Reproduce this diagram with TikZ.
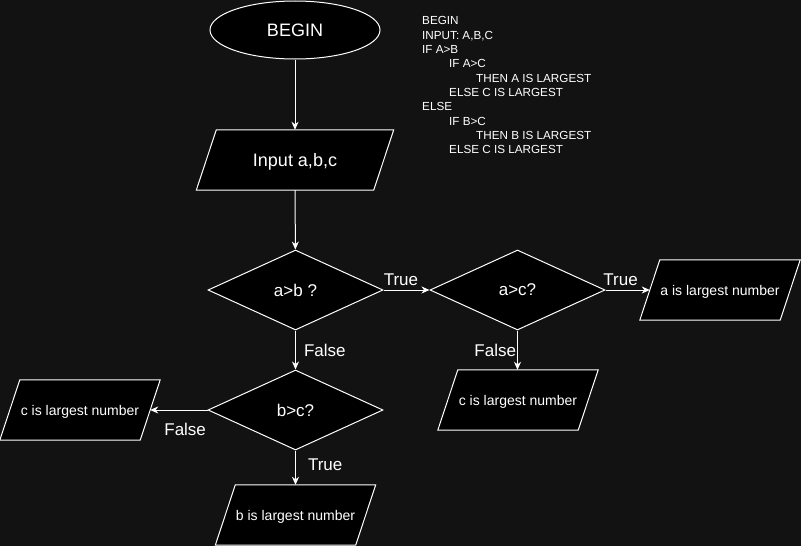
\documentclass[tikz,border=0pt]{standalone}
\usepackage{fontspec}
\setmainfont{Liberation Sans}
\usetikzlibrary{shapes.geometric,arrows.meta,backgrounds}
\definecolor{bg}{RGB}{18,18,18}

\begin{document}
\begin{tikzpicture}[x=1pt, y=-1pt,
    box/.style={draw=white, fill=black, text=white, line width=1pt, inner sep=0pt},
    io/.style={text=white, inner sep=0pt, minimum height=60pt, text depth=0pt, font=\fontsize{14}{16}\selectfont},
    test/.style={box, diamond, minimum width=175pt, minimum height=80pt, font=\fontsize{17}{20}\selectfont},
    arr/.style={draw=white, line width=1pt, -{Stealth[length=8pt, width=7pt, inset=2.5pt]}},
    lbl/.style={text=white, inner sep=0pt, font=\fontsize{17}{20}\selectfont}]
\path[use as bounding box] (0,0) rectangle (801,546);

% flow chart
\node[box, ellipse, minimum width=170pt, minimum height=58pt, font=\fontsize{18}{20}\selectfont] (begin) at (295,30) {BEGIN};
\node[io, minimum width=177pt, font=\fontsize{18}{20}\selectfont] (input) at (295,160) {Input a,b,c};
\node[test] (ab) at (295.5,290) {a>b ?};
\node[test] (ac) at (517.5,290) {a>c?};
\node[test] (bc) at (295.5,410) {b>c?};
\node[io, minimum width=140pt] (alarge) at (720,290) {a is largest number};
\node[io, minimum width=140pt] (clarge1) at (518,400) {c is largest number};
\node[io, minimum width=140pt] (clarge2) at (80,410) {c is largest number};
\node[io, minimum width=140pt] (blarge) at (295.5,515) {b is largest number};

% parallelograms behind the io nodes
\begin{scope}[on background layer]
\fill[bg] (0,0) rectangle (801,546);
\foreach \n in {input,alarge,clarge1,clarge2,blarge}
    \draw[box] ([xshift=10pt]\n.north west) -- ([xshift=10pt]\n.north east)
        -- ([xshift=-10pt]\n.south east) -- ([xshift=-10pt]\n.south west) -- cycle;
\end{scope}

\draw[arr] (begin) -- (input);
\draw[arr] (input) -- (ab);
\draw[arr] (ab.east) -- node[lbl, above=4pt, pos=0.38] (t1) {True} (ac.west);
\draw[arr] (ac.east) -- node[lbl, above=4pt, pos=0.34] (t2) {True} (alarge);
\draw[arr] (ac.south) -- node[lbl, left=1pt, midway] (f1) {False} (ac.south |- clarge1.north);
\draw[arr] (ab) -- node[lbl, right=8pt, midway] (f2) {False} (bc);
\draw[arr] (bc.west) -- node[lbl, below=13pt, pos=0.39] (f3) {False} (clarge2);
\draw[arr] (bc) -- node[lbl, right=12pt, pos=0.42] (t3) {True} (blarge);

% pseudo code
\node[text=white, inner sep=0pt, anchor=north west, align=left, font=\fontsize{11.7}{14.3}\selectfont] (pseudo) at (422,16.6)
    {BEGIN\\INPUT: A,B,C\\IF A>B\\\hspace*{27pt}IF A>C\\\hspace*{54pt}THEN A IS LARGEST\\
     \hspace*{27pt}ELSE C IS LARGEST\\ELSE\\\hspace*{27pt}IF B>C\\\hspace*{54pt}THEN B IS LARGEST\\
     \hspace*{27pt}ELSE C IS LARGEST};
\end{tikzpicture}
\end{document}
